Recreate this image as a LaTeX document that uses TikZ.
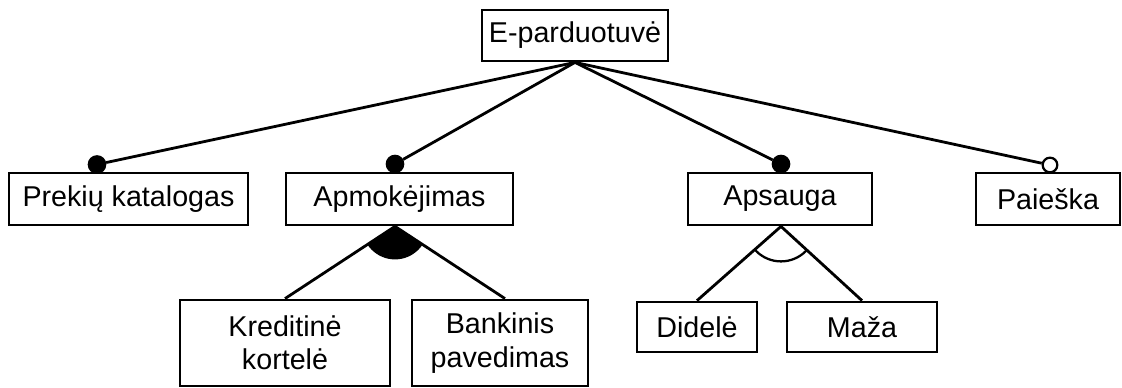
\documentclass[tikz,border=0pt]{standalone}
\usepackage{fontspec}
\setmainfont{Liberation Sans}
\usetikzlibrary{calc}
\begin{document}
\begin{tikzpicture}[x=0.75pt,y=-0.75pt,
  feat/.style={draw, line width=2.1pt, rectangle, inner sep=0pt, align=center,
    font=\fontsize{21.5}{25}\selectfont, minimum height=38.25pt},
  link/.style={line width=2.1pt},
  mand/.style={circle, fill=black, draw, line width=1pt, minimum size=13pt, inner sep=0pt},
  opt/.style={circle, fill=white, draw, line width=1.7pt, minimum size=11pt, inner sep=0pt}]
\useasboundingbox (0,0) rectangle (1122,387);

% feature boxes
\node[feat, minimum width=139.5pt] (root) at (575,35.5) {E-parduotuvė};
\node[feat, minimum width=179.25pt, minimum height=39pt] (prek) at (128.5,199) {Prekių katalogas};
\node[feat, minimum width=170.25pt, minimum height=39pt] (apm) at (399.5,199) {Apmokėjimas};
\node[feat, minimum width=138pt, minimum height=39pt] (aps) at (780,199) {Apsauga};
\node[feat, minimum width=108pt, minimum height=39pt] (pai) at (1048,199) {Paieška};
\node[feat, minimum width=157.5pt, minimum height=64.5pt] (kred) at (285,343) {Kreditinė\\kortelė};
\node[feat, minimum width=132pt, minimum height=64.5pt] (bank) at (500,343) {Bankinis\\pavedimas};
\node[feat, minimum width=90pt, minimum height=37.5pt] (did) at (697,327) {Didelė};
\node[feat, minimum width=112.5pt, minimum height=37.5pt] (maz) at (862,327) {Maža};

% mandatory / optional markers
\node[mand] (mPrek) at (97,164.5) {};
\node[mand] (mApm) at (395,164) {};
\node[mand] (mAps) at (781,164) {};
\node[opt] (oPai) at (1050,165) {};

\draw[link] (root.south) -- (mPrek);
\draw[link] (root.south) -- (mApm);
\draw[link] (root.south) -- (mAps);
\draw[link] (root.south) -- (oPai);

% or-group (filled arc)
\coordinate (apmFork) at ($(apm.south)+(-4.5,0)$);
\coordinate (bankTop) at ($(bank.north)+(5,0)$);
\begin{scope}
  \clip (apmFork) -- (kred.north) -- (bankTop) -- cycle;
  \fill (apmFork) circle[radius=24.75pt];
\end{scope}
\draw[link] (kred.north) -- (apmFork) -- (bankTop);

% alternative group (open arc)
\coordinate (apsFork) at ($(aps.south)+(1,0)$);
\begin{scope}
  \clip (apsFork) -- (did.north) -- (maz.north) -- cycle;
  \draw[line width=1.7pt] (apsFork) circle[radius=26.25pt];
\end{scope}
\draw[link] (did.north) -- (apsFork) -- (maz.north);
\end{tikzpicture}
\end{document}
